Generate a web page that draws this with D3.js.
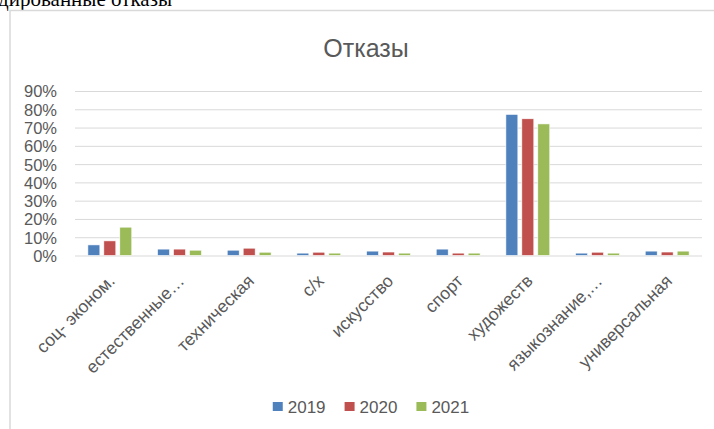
<!DOCTYPE html>
<html>
  <head>
    <meta charset="utf-8">
    <title>Отказы</title>
    <script src="https://d3js.org/d3.v7.min.js"></script>
    <style>
      body { margin: 0; background: #fff; }
      text { font-family: "Liberation Sans", Arial, sans-serif; fill: #595959; }
    </style>
  </head>
  <body>
    <script>
      var categories = ["соц- эконом.", "естественные…", "техническая", "с/х", "искусство",
                        "спорт", "художеств", "языкознание,…", "универсальная"];
      var years = ["2019", "2020", "2021"];
      var v2019 = [0.058, 0.035, 0.029, 0.013, 0.024, 0.035, 0.772, 0.013, 0.024];
      var v2020 = [0.080, 0.035, 0.040, 0.018, 0.019, 0.013, 0.748, 0.018, 0.019];
      var v2021 = [0.155, 0.029, 0.018, 0.013, 0.013, 0.013, 0.720, 0.013, 0.024];
      var yTicks = [0, 0.1, 0.2, 0.3, 0.4, 0.5, 0.6, 0.7, 0.8, 0.9];
      var colors = ["#4f81bd", "#c0504d", "#9bbb59"];

      var series = [v2019, v2020, v2021];

      var svg = d3.select("body").append("svg")
        .attr("width", 714)
        .attr("height", 429);

      // bit of the document heading that sits above the chart (cut by the page top)
      svg.append("text")
        .attr("x", -2)
        .attr("y", 6)
        .style("font-family", "'Liberation Serif', serif")
        .style("font-size", "21px")
        .style("fill", "#000")
        .text("дированные отказы");

      // chart frame (runs off the right and bottom)
      svg.append("rect")
        .attr("x", 10)
        .attr("y", 10.5)
        .attr("width", 720)
        .attr("height", 440)
        .attr("fill", "none")
        .attr("stroke", "#d9d9d9")
        .attr("stroke-width", 1.5);

      svg.append("text")
        .attr("x", 366)
        .attr("y", 57)
        .attr("text-anchor", "middle")
        .style("font-size", "25px")
        .text("Отказы");

      var x0 = d3.scaleBand()
        .domain(categories)
        .range([75, 702])
        .paddingInner(0.37)
        .paddingOuter(0.185);

      var x1 = d3.scaleBand()
        .domain(years)
        .range([0, x0.bandwidth()])
        .paddingInner(0.25);

      var y = d3.scaleLinear()
        .domain([0, 0.9])
        .range([255.5, 91]);

      // gridlines
      var yAxis = d3.axisLeft(y)
        .tickValues(yTicks)
        .tickSize(-(702 - 75))
        .tickFormat(d3.format(".0%"));

      var gy = svg.append("g")
        .attr("transform", "translate(75,0)")
        .call(yAxis);
      gy.select(".domain").remove();
      gy.selectAll(".tick line").attr("stroke", "#d9d9d9").attr("stroke-width", 1);
      gy.selectAll(".tick text")
        .attr("x", -18)
        .attr("dy", "0.36em")
        .style("font-size", "16.5px")
        .style("font-family", "'Liberation Sans', Arial, sans-serif")
        .style("fill", "#595959");

      // bars
      var groups = svg.selectAll("g.cat")
        .data(categories)
        .enter().append("g")
          .attr("class", "cat")
          .attr("transform", function(d) { return "translate(" + x0(d) + ",0)"; });

      groups.selectAll("rect")
        .data(function(d, i) { return years.map(function(yr, k) { return { yr: yr, k: k, v: series[k][i] }; }); })
        .enter().append("rect")
          .attr("x", function(d) { return x1(d.yr); })
          .attr("y", function(d) { return y(d.v); })
          .attr("width", x1.bandwidth())
          .attr("height", function(d) { return y(0) - y(d.v); })
          .attr("fill", function(d) { return colors[d.k]; })
          .attr("stroke", "#fff")
          .attr("stroke-width", 0.6);

      // rotated category labels
      svg.selectAll("text.cat-label")
        .data(categories)
        .enter().append("text")
          .attr("class", "cat-label")
          .attr("text-anchor", "end")
          .attr("transform", function(d) {
            return "translate(" + (x0(d) + x0.bandwidth() / 2 + 6) + ",282) rotate(-45)";
          })
          .style("font-size", "17.5px")
          .text(function(d) { return d; });

      // legend
      var legend = svg.append("g");
      var lx = 0;
      years.forEach(function(yr, k) {
        legend.append("rect")
          .attr("x", lx)
          .attr("y", 402)
          .attr("width", 10)
          .attr("height", 9)
          .attr("fill", colors[k]);
        var t = legend.append("text")
          .attr("x", lx + 15)
          .attr("y", 413)
          .style("font-size", "17px")
          .text(yr);
        lx += 15 + t.node().getComputedTextLength() + 19;
      });
      var lw = lx - 19;
      legend.attr("transform", "translate(" + (371 - lw / 2) + ",0)");
    </script>
  </body>
</html>
